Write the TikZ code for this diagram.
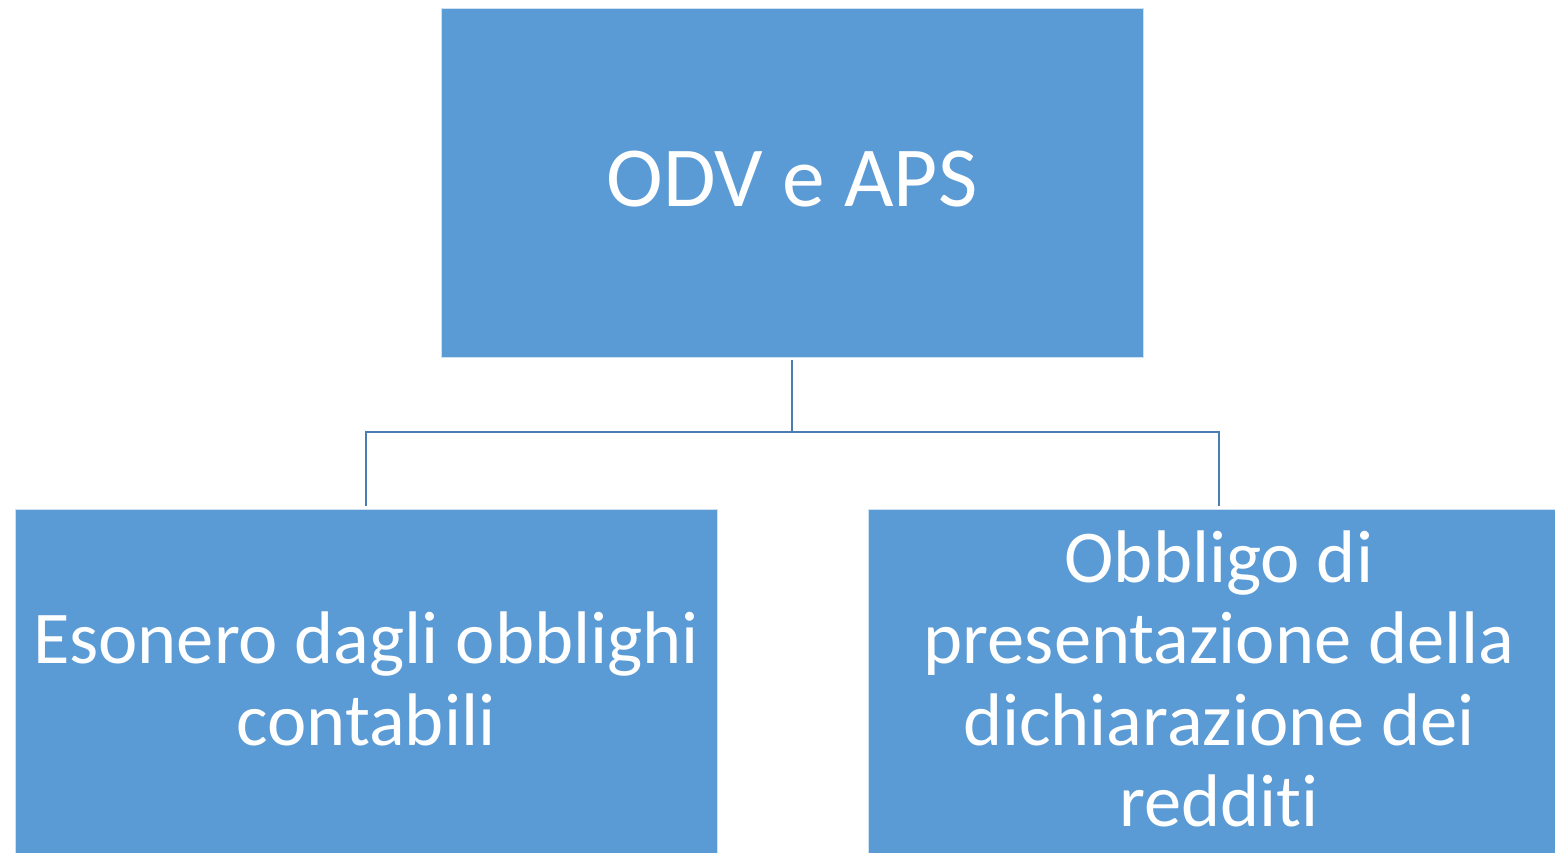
\documentclass[tikz,border=0pt]{standalone}
\usepackage{fontspec}
\setmainfont{Carlito}[RawFeature={-liga}]
\definecolor{boxblue}{HTML}{5B9BD5}
\definecolor{connblue}{HTML}{4A7EB0}
\begin{document}
\begin{tikzpicture}[x=1pt,y=-1pt,
  orgbox/.style={rectangle, fill=boxblue, draw=white!70!boxblue, line width=0.8pt, minimum width=702pt, minimum height=349pt, inner sep=0pt, text=white, align=center},
  bigtext/.style={font=\fontsize{85.5}{94}\selectfont},
  subtext/.style={font=\fontsize{74.5}{81.5}\selectfont},
  conn/.style={draw=connblue, line width=2.8pt, shorten <=3pt, shorten >=3pt}]
\useasboundingbox (0,0) rectangle (1555,853);
\clip (0,0) rectangle (1555,853);
\fill[white] (0,0) rectangle (1555,853);
\node[orgbox, bigtext] (top) at (792,182.5) {};
\node[text=white, bigtext, inner sep=0pt] (toptext) at (792,179.5) {ODV e APS};
\node[orgbox, subtext] (left) at (366,683.5) {};
\node[text=white, subtext, align=center, inner sep=0pt] (lefttext) at (366,679) {Esonero dagli obblighi\\contabili};
\node[orgbox, subtext] (right) at (1219,683.5) {};
\node[text=white, subtext, align=center, inner sep=0pt] (righttext) at (1219,679) {Obbligo di\\presentazione della\\dichiarazione dei\\redditi};
\coordinate (mid) at (792,432);
\draw[conn] (top.south) -- (mid) -| (left.north);
\draw[conn, shorten <=0pt] (mid) -| (right.north);
\end{tikzpicture}
\end{document}
